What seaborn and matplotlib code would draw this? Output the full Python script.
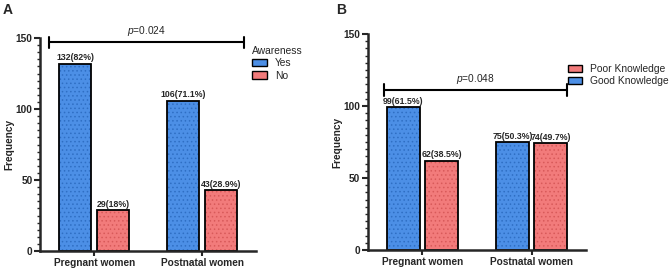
import matplotlib
matplotlib.use("Agg")
import matplotlib.pyplot as plt
from matplotlib.patches import Patch, Rectangle
from matplotlib.ticker import MultipleLocator
import pandas as pd
import seaborn as sns

groups = ["Pregnant women", "Postnatal women"]

# panel A: awareness
aware_levels = ["Yes", "No"]
aware_yes = [132, 106]
aware_no = [29, 43]
aware_labels_yes = ["132(82%)", "106(71.1%)"]
aware_labels_no = ["29(18%)", "43(28.9%)"]
aware_p = "0.024"

# panel B: knowledge
know_levels = ["Good Knowledge", "Poor Knowledge"]
know_good = [99, 75]
know_poor = [62, 74]
know_labels_good = ["99(61.5%)", "75(50.3%)"]
know_labels_poor = ["62(38.5%)", "74(49.7%)"]
know_p = "0.048"

BLUE = "#4C8FE6"
RED = "#F27B7B"
BLUE_DOT = "#2F6FC4"
RED_DOT = "#D85A5A"

sns.set_style("ticks")
plt.rcParams["font.family"] = ["Liberation Sans", "DejaVu Sans"]
plt.rcParams["mathtext.fontset"] = "custom"
plt.rcParams["mathtext.it"] = "Liberation Sans:italic"
plt.rcParams["mathtext.rm"] = "Liberation Sans"
plt.rcParams["hatch.linewidth"] = 0.6


def make_df(levels, first, second, lab1, lab2):
    rows = []
    for g, v, l in zip(groups, first, lab1):
        rows.append({"Group": g, "Level": levels[0], "Frequency": v, "Label": l})
    for g, v, l in zip(groups, second, lab2):
        rows.append({"Group": g, "Level": levels[1], "Frequency": v, "Label": l})
    return pd.DataFrame(rows)


def draw_panel(ax, df, levels, p_text, p_y, p_x):
    sns.barplot(
        data=df, x="Group", y="Frequency", hue="Level", order=groups,
        hue_order=levels, palette=[BLUE, RED], width=0.7, gap=0.15,
        edgecolor="black", linewidth=1.3, legend=False, ax=ax,
    )
    dot_cols = [BLUE_DOT, RED_DOT]
    fills = [BLUE, RED]
    for ci, cont in enumerate(ax.containers):
        for bar in cont:
            z = bar.get_zorder()
            # solid fill, then dotted texture, then the black outline on top
            ax.add_patch(Rectangle(bar.get_xy(), bar.get_width(), bar.get_height(),
                                   facecolor=fills[ci], linewidth=0, zorder=z))
            ax.add_patch(Rectangle(bar.get_xy(), bar.get_width(), bar.get_height(),
                                   fill=False, hatch="....", edgecolor=dot_cols[ci],
                                   linewidth=0, zorder=z + 0.1))
            bar.set_facecolor("none")
            bar.set_zorder(z + 0.2)
        sub = df[df["Level"] == levels[ci]].set_index("Group").loc[groups]
        ax.bar_label(cont, labels=list(sub["Label"]), fontsize=6.3,
                     fontweight="bold", padding=1)

    ax.set_xlim(-0.5, 1.5)
    ax.set_ylim(0, 150)
    ax.yaxis.set_major_locator(MultipleLocator(50))
    ax.yaxis.set_minor_locator(MultipleLocator(5))
    ax.tick_params(axis="y", which="major", length=4, width=1.5, labelsize=7.3, pad=1.5)
    ax.tick_params(axis="y", which="minor", length=2, width=1)
    ax.tick_params(axis="x", length=3.5, width=1.5, labelsize=7.3, pad=1.5)
    for lab in ax.get_xticklabels() + ax.get_yticklabels():
        lab.set_fontweight("bold")
    ax.set_xlabel("")
    ax.set_ylabel("Frequency", fontsize=7.3, fontweight="bold", labelpad=1)
    sns.despine(ax=ax)
    ax.spines["left"].set_linewidth(1.8)
    ax.spines["bottom"].set_linewidth(1.8)

    # significance bracket
    x0, x1 = p_x
    ax.plot([x0, x1], [p_y, p_y], color="black", lw=1.5, clip_on=False)
    for xx in (x0, x1):
        ax.plot([xx, xx], [p_y - 4, p_y + 4], color="black", lw=1.5, clip_on=False)
    ax.text((x0 + x1) / 2, p_y + 3, r"$\it{p}$=" + p_text, ha="center",
            va="bottom", fontsize=7.3)


fig = plt.figure(figsize=(6.69, 2.70), dpi=100)
ax_a = fig.add_axes([0.060, 0.070, 0.323, 0.789])
ax_b = fig.add_axes([0.550, 0.074, 0.326, 0.800])

df_a = make_df(aware_levels, aware_yes, aware_no, aware_labels_yes, aware_labels_no)
df_b = make_df(know_levels, know_good, know_poor, know_labels_good, know_labels_poor)

draw_panel(ax_a, df_a, aware_levels, aware_p, 147, (-0.417, 1.389))
draw_panel(ax_b, df_b, know_levels, know_p, 111, (-0.353, 1.326))


def handle(col):
    return Patch(facecolor=col, edgecolor="black", linewidth=1.0)


ax_a.legend(
    [handle(BLUE), handle(RED)], aware_levels,
    title="Awareness", loc="upper left", bbox_to_anchor=(0.962, 0.98),
    frameon=False, fontsize=7.4, title_fontsize=7.4, handlelength=1.4,
    handleheight=0.7, labelspacing=0.2, borderaxespad=0, alignment="left",
)
ax_b.legend(
    [handle(RED), handle(BLUE)], ["Poor Knowledge", "Good Knowledge"],
    loc="upper left", bbox_to_anchor=(0.897, 0.88),
    frameon=False, fontsize=7.4, handlelength=1.4, handleheight=0.7,
    labelspacing=0.2, borderaxespad=0,
)

fig.text(0.004, 0.99, "A", fontsize=10, fontweight="bold", va="top")
fig.text(0.503, 0.99, "B", fontsize=10, fontweight="bold", va="top")

fig.savefig("out.png", dpi=100)
